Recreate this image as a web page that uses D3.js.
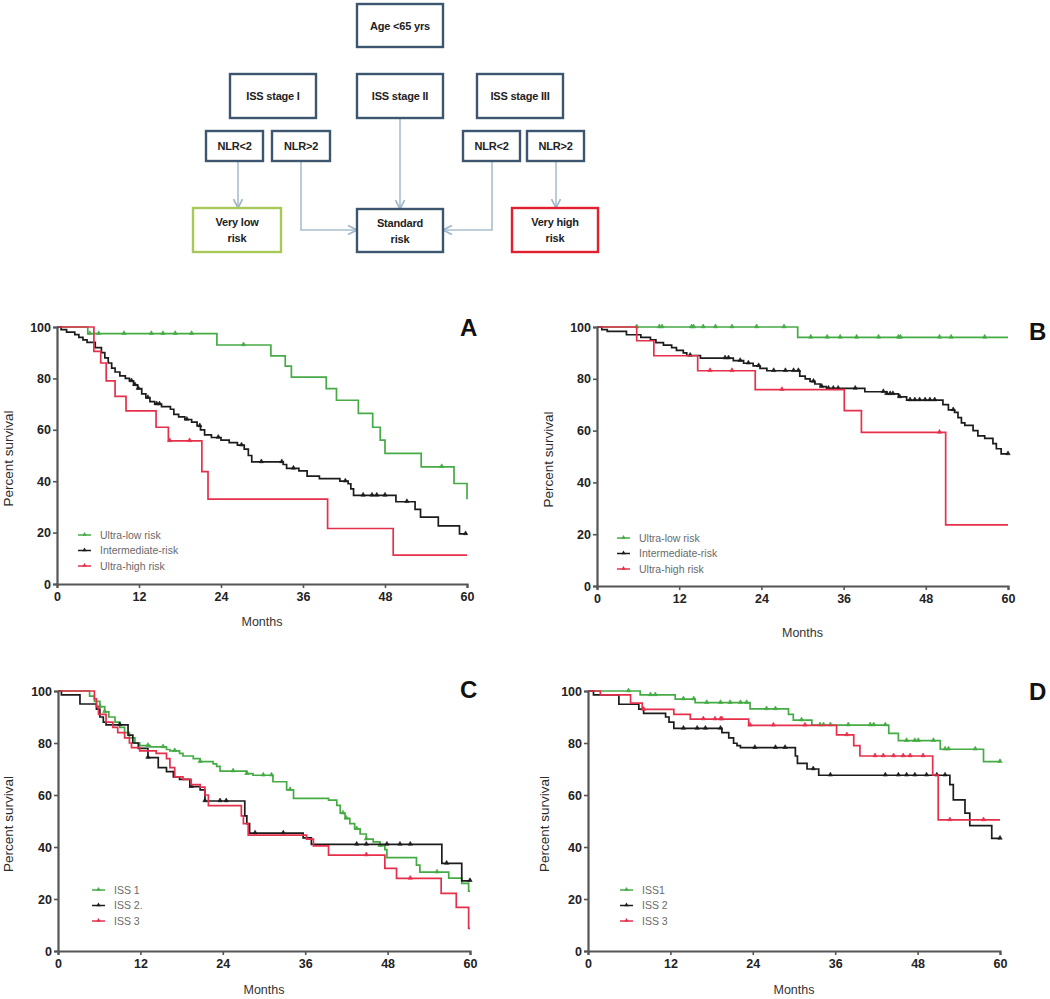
<!DOCTYPE html>
<html><head><meta charset="utf-8">
<script src="https://cdn.jsdelivr.net/npm/d3@7"></script>
<style>body{margin:0;background:#fff}svg{display:block}</style></head><body>
<svg id="c" width="1050" height="999"></svg>
<script>
// ---------- tick labels ----------
const yTicks = [0, 20, 40, 60, 80, 100];
const xTicks = [0, 12, 24, 36, 48, 60];

// ---------- Panel A (drop times, survival after drop, censor times) ----------
const aLowT = [4.5, 23.4, 31.3, 33.4, 34.3, 39.4, 40.9, 44.1, 46.2, 47.3, 48, 53.3, 58.1, 60];
const aLowS = [97.4, 93, 88.8, 84.8, 80.5, 76, 71.5, 66.4, 61, 56, 50.8, 45.6, 39.1, 33];
const aLowC = [4.8, 6.1, 9.8, 13.8, 15.5, 17.3, 19.7, 27.3, 56.3];
const aIntT = [0.6, 1.4, 2.6, 3.2, 3.8, 4.4, 5.6, 6.5, 7, 7.5, 8, 8.5, 9.2, 10, 10.6, 11.2, 11.8, 12.4, 13, 13.6, 14.3, 15.3, 16.6, 17.1, 17.8, 18.7, 19.7, 20.5, 21, 21.6, 22.6, 24, 25.2, 26.4, 27.4, 28, 28.5, 33.1, 33.6, 35.4, 36.6, 38.4, 41.4, 42.6, 43, 43.4, 49.6, 52.4, 53.2, 55.8, 58.9];
const aIntS = [99, 98, 97, 96, 95, 94, 92, 90, 88, 86, 84, 82.5, 81, 80, 79, 77.5, 76, 74, 72.5, 71, 70, 69, 68, 66, 65, 64, 63, 61.5, 60, 58, 57, 56, 55, 54, 52.5, 50, 47.5, 46.5, 45, 44, 42, 41, 40, 39, 37, 34.5, 32, 29, 26, 22.6, 19.5];
const aIntC = [10.9, 11.4, 11.9, 13.3, 14.6, 15, 19, 20.9, 23.6, 27, 29.9, 32.9, 34.6, 42.2, 44.8, 46.1, 46.8, 48, 51.2, 59.8];
const aHighT = [5.4, 6.4, 7.2, 8.5, 10.1, 14.5, 16.3, 21.2, 22.1, 39.6, 49.2];
const aHighS = [90.5, 86, 79, 73, 67.4, 61, 55.7, 43.7, 33, 21.6, 11.2];
const aHighC = [16.5, 19.4];

// ---------- Panel B ----------
const bLowT = [29.3];
const bLowS = [96];
const bLowC = [5.8, 9.1, 9.5, 13.8, 14.1, 15.5, 17.3, 19.7, 23.3, 27.3, 31.2, 33.6, 35.5, 37.9, 41.1, 44, 44.3, 50, 51.7, 56.6];
const bIntT = [0.7, 1.5, 4.3, 6.4, 7.8, 8.6, 9.7, 10.9, 11.6, 12.6, 13.1, 15.1, 19.9, 21.4, 22.8, 23.8, 24.8, 29.6, 30.4, 31.1, 31.8, 32.6, 33.5, 39.1, 42.3, 44, 45.2, 50.5, 51.3, 52.2, 52.7, 53.2, 53.7, 54.9, 55.6, 56.6, 57.8, 58.3, 59];
const bIntS = [99, 98.3, 97, 96, 95, 94, 93, 92, 91, 90, 89, 88, 87, 86, 85, 84, 83.1, 81, 80, 79, 78, 77, 76.3, 75, 74.2, 73, 71.8, 70, 68, 67, 65, 63, 62, 60, 58, 57, 55, 53, 51];
const bIntC = [13.6, 18.7, 19.2, 20.9, 22.1, 23.6, 25.8, 27.5, 28.7, 29.4, 31.6, 32.8, 33.8, 34.5, 35.2, 37.7, 41.8, 42.3, 42.8, 43.2, 44.2, 45.7, 46.4, 47.1, 47.9, 48.6, 49.3, 52, 60];
const bHighT = [5.8, 8.3, 14.7, 23.1, 36.1, 38.6, 50.9];
const bHighS = [94.7, 88.9, 83.1, 75.8, 67.7, 59.3, 23.6];
const bHighC = [16.5, 19.7, 27, 50];

// ---------- Panel C ----------
const cIss1T = [4.6, 5.3, 6.1, 6.8, 7.4, 8.3, 9, 9.7, 10.4, 11.2, 11.9, 13.4, 15.8, 16.3, 17.7, 18.2, 19.7, 20.7, 22.6, 23.1, 23.6, 27.5, 28.4, 31.3, 33.3, 34.3, 39.4, 40.6, 41.1, 41.8, 42.5, 43.2, 44, 44.9, 45.9, 46.9, 47.6, 47.9, 52.2, 52.7, 56.9, 58.8, 59.8];
const cIss1S = [98, 96, 94, 92, 90, 88, 86, 84, 82, 80, 79, 78.5, 77.5, 77, 76, 75, 74, 72.8, 72, 71, 69.2, 68.2, 67.6, 65.1, 62, 58.7, 58, 56, 53, 51, 49, 47, 45, 43, 42, 40.5, 39, 35.9, 33, 30.3, 28, 26, 23];
const cIss1C = [6.1, 6.8, 13.1, 15.3, 17, 20.7, 25.5, 27.5, 29.9, 31.1, 33.8, 41.5, 42, 43.5, 44.9, 46.9, 55.2];
const cIss2T = [0.5, 3.2, 5.6, 6.1, 6.6, 7, 10.2, 10.9, 11.7, 13.1, 14.6, 15.8, 16.8, 17.7, 19.2, 20.7, 21.4, 27.2, 27.5, 27.9, 35.7, 36.9, 55.9, 58.8];
const cIss2S = [98.5, 95, 93, 90, 88, 87, 83, 80, 77.9, 74.4, 70.5, 69, 67, 66, 63.2, 62, 57.7, 52, 49, 45.3, 43.5, 41, 33.7, 27];
const cIss2C = [9, 13.1, 19.4, 21.4, 23.6, 24.5, 28.7, 32.8, 43.5, 44.9, 47.9, 49.8, 51.3, 56.6, 60];
const cIss3T = [5.3, 5.6, 5.9, 7, 8, 8.7, 9.7, 10.4, 10.7, 11.9, 14.3, 15.8, 16.3, 17, 18.2, 19.4, 20.7, 21.4, 21.9, 26.7, 27, 27.7, 36.2, 37.2, 39.4, 47.6, 49.3, 55.8, 58, 59.8];
const cIss3S = [97, 94, 91, 88, 86, 84, 82, 80, 78.2, 77, 76, 74, 70.5, 67, 66, 64, 63, 60, 55.9, 52, 49, 44.6, 43, 40.4, 36.9, 31.8, 27.9, 22.2, 16.8, 8.7];
const cIss3C = [44.9, 51.3];

// ---------- Panel D ----------
const dIss1T = [7.6, 12.7, 15.6, 23.6, 29.2, 29.9, 32.6, 43.8, 45.2, 51.3, 57.6];
const dIss1S = [98.5, 96.9, 95.5, 93.1, 91, 88.8, 86.9, 83.7, 80.9, 77.6, 72.8];
const dIss1C = [5.9, 9.1, 9.8, 13.9, 15.4, 17.3, 19.3, 20.7, 22.2, 23.1, 26, 27.3, 31.1, 33.8, 34.3, 35.3, 37.9, 41.1, 41.6, 43.3, 46.4, 47.6, 48.1, 50.3, 52, 52.5, 56.4, 60];
const dIss2T = [0.8, 4.5, 7.4, 8.1, 11.3, 11.8, 12.5, 19.5, 20.5, 21.2, 21.7, 22.2, 30.2, 30.5, 31.9, 33.6, 52.7, 53.2, 54.9, 55.6, 58.8];
const dIss2S = [98.5, 94.9, 93, 91.4, 90, 88, 85.6, 84, 82, 79.9, 79, 78.2, 75, 72.2, 70, 67.6, 64, 58.1, 53, 48.2, 43.3];
const dIss2C = [13.9, 15.9, 17.1, 19.3, 24.3, 27.3, 28.7, 32.8, 35.3, 43.3, 45.2, 46.4, 47.6, 49.3, 50.8, 52, 60];
const dIss3T = [1.8, 6.2, 7.9, 12.5, 14.9, 23.4, 36.2, 38.7, 39.6, 50.2, 51];
const dIss3S = [98.5, 95.3, 92.9, 91, 89.2, 86.8, 83.1, 79, 75, 67.7, 50.4];
const dIss3C = [8.1, 16.8, 18.5, 19.3, 19.5, 23.6, 27, 31.6, 37.7, 41.8, 43, 44.5, 45.9, 46.9, 48.8, 52.7, 57.6];

// ---------- legends ----------
const abNames = ["Ultra-low risk", "Intermediate-risk", "Ultra-high risk"];
const cNames = ["ISS 1", "ISS 2.", "ISS 3"];
const dNames = ["ISS1", "ISS 2", "ISS 3"];

// ---------- flowchart text ----------
const fcLabels = ["Age <65 yrs", "ISS stage I", "ISS stage II", "ISS stage III", "NLR<2", "NLR>2", "NLR<2", "NLR>2", "Very low|risk", "Standard|risk", "Very high|risk"];

const GREEN = "#45ab45", BLACK = "#1c1c1c", RED = "#e6304b";
const svg = d3.select("#c");

// ================= Flowchart =================
const fcBoxes = [
  {x:357,y:4,w:86,h:43}, {x:230,y:74,w:86,h:44}, {x:357,y:74,w:86,h:44}, {x:477,y:74,w:86,h:44},
  {x:206,y:131,w:57,h:30}, {x:272,y:131,w:58,h:30}, {x:463,y:131,w:57,h:30}, {x:527,y:131,w:57,h:30},
  {x:193,y:208,w:88,h:44,c:"#a9c85a"}, {x:357,y:209,w:86,h:43}, {x:512,y:208,w:86,h:44,c:"#e0202e"}
];
const defs = svg.append("defs");
defs.append("marker").attr("id","arr").attr("viewBox","0 0 10 10").attr("refX",9).attr("refY",5)
  .attr("markerWidth",7).attr("markerHeight",7).attr("orient","auto-start-reverse")
  .append("path").attr("d","M1,1 L9,5 L1,9").attr("fill","none").attr("stroke","#9fb6c8").attr("stroke-width",1.5);
const arrows = [
  [[238,161],[238,208]],
  [[301,161],[301,230],[357,230]],
  [[400,118],[400,209]],
  [[492,161],[492,230],[443,230]],
  [[556,161],[556,208]]
];
const fc = svg.append("g");
fc.selectAll("path.ar").data(arrows).join("path").attr("class","ar")
  .attr("d", d => d3.line()(d)).attr("fill","none").attr("stroke","#a9bfd0").attr("stroke-width",1.6)
  .attr("marker-end","url(#arr)");
fc.selectAll("rect").data(fcBoxes).join("rect")
  .attr("x",d=>d.x).attr("y",d=>d.y).attr("width",d=>d.w).attr("height",d=>d.h)
  .attr("fill","#fff").attr("stroke",d=>d.c||"#3c5670").attr("stroke-width",2.4);
fcBoxes.forEach((b,i)=>{
  const lines = fcLabels[i].split("|");
  const t = fc.append("text").attr("text-anchor","middle").attr("font-family","Liberation Sans, Arial")
    .attr("font-weight","bold").attr("font-size",11).attr("fill","#222").attr("letter-spacing","-0.2");
  lines.forEach((l,k)=>{
    t.append("tspan").attr("x", b.x + b.w/2)
     .attr("y", b.y + b.h/2 + 4 + (k - (lines.length-1)/2)*16).text(l);
  });
});

// ================= KM panels =================
function drawPanel(p) {
  const x = d3.scaleLinear().domain([0,60]).range([p.x0,p.x1]);
  const y = d3.scaleLinear().domain([0,100]).range([p.y0,p.y1]);
  const g = svg.append("g");
  const ff = "Liberation Sans, Arial";
  // curves
  p.series.forEach(s=>{
    const pts = [[0,100]];
    let cur = 100;
    s.t.forEach((t,i)=>{ pts.push([t,cur]); cur = s.s[i]; pts.push([t,cur]); });
    pts.push([60,cur]);
    g.append("path").attr("d", d3.line().x(d=>x(d[0])).y(d=>y(d[1]))(pts))
      .attr("fill","none").attr("stroke",s.col).attr("stroke-width",1.7);
    const surv = t => { let v = 100; s.t.forEach((tt,i)=>{ if (tt <= t) v = s.s[i]; }); return v; };
    g.selectAll(null).data(s.c).join("path")
      .attr("d", d => { const cx = x(d), cy = y(surv(d)); return `M${cx},${cy-3}L${cx-2.2},${cy+0.8}L${cx+2.2},${cy+0.8}Z`; })
      .attr("fill",s.col).attr("stroke",s.col).attr("stroke-width",0.6);
  });
  // axes
  const ya = g.append("g").attr("transform",`translate(${p.x0},0)`)
    .call(d3.axisLeft(y).tickValues(yTicks).tickSize(4).tickPadding(2));
  const xa = g.append("g").attr("transform",`translate(0,${p.y0})`)
    .call(d3.axisBottom(x).tickValues(xTicks).tickSize(4).tickPadding(4));
  [ya,xa].forEach(a=>{
    a.select(".domain").attr("stroke","#555").attr("stroke-width",2.2);
    a.selectAll(".tick line").attr("stroke","#555").attr("stroke-width",1.6);
    a.selectAll("text").attr("font-family",ff).attr("font-weight","bold").attr("font-size",12.5).attr("fill","#222");
  });
  // labels
  g.append("text").attr("x",(p.x0+p.x1)/2).attr("y",p.mY).attr("text-anchor","middle")
    .attr("font-family",ff).attr("font-size",12.5).attr("fill","#333").text("Months");
  g.append("text").attr("transform",`translate(${p.pX},${(p.y0+p.y1)/2+3}) rotate(-90)`).attr("text-anchor","middle")
    .attr("font-family",ff).attr("font-size",13.5).attr("fill","#2a2a2a").text("Percent survival");
  g.append("text").attr("x",p.lx).attr("y",p.ly).attr("font-family",ff).attr("font-weight","bold")
    .attr("font-size",24).attr("fill","#111").text(p.letter);
  // legend
  p.names.forEach((n,i)=>{
    const ly = p.legY + i*15.5;
    g.append("line").attr("x1",p.legX).attr("x2",p.legX+13).attr("y1",ly).attr("y2",ly)
      .attr("stroke",p.series[i].col).attr("stroke-width",1.5);
    const cx = p.legX+6.5;
    g.append("path").attr("d",`M${cx},${ly-3}L${cx-2.2},${ly+0.8}L${cx+2.2},${ly+0.8}Z`).attr("fill",p.series[i].col);
    g.append("text").attr("x",p.legX+22).attr("y",ly+3.5).attr("font-family",ff).attr("font-size",10.5)
      .attr("fill","#6a6a6a").text(n);
  });
}

drawPanel({x0:57,x1:467,y0:584,y1:327,mY:626,pX:13,lx:460,ly:336,letter:"A",legX:78,legY:535,names:abNames,
  series:[{t:aLowT,s:aLowS,c:aLowC,col:GREEN},{t:aIntT,s:aIntS,c:aIntC,col:BLACK},{t:aHighT,s:aHighS,c:aHighC,col:RED}]});
drawPanel({x0:597,x1:1008,y0:586,y1:327,mY:637,pX:553,lx:1029,ly:340,letter:"B",legX:617,legY:538,names:abNames,
  series:[{t:bLowT,s:bLowS,c:bLowC,col:GREEN},{t:bIntT,s:bIntS,c:bIntC,col:BLACK},{t:bHighT,s:bHighS,c:bHighC,col:RED}]});
drawPanel({x0:58,x1:470,y0:951,y1:691,mY:994,pX:13,lx:460,ly:698,letter:"C",legX:92,legY:890,names:cNames,
  series:[{t:cIss1T,s:cIss1S,c:cIss1C,col:GREEN},{t:cIss2T,s:cIss2S,c:cIss2C,col:BLACK},{t:cIss3T,s:cIss3S,c:cIss3C,col:RED}]});
drawPanel({x0:588,x1:1000,y0:951,y1:691,mY:994,pX:549,lx:1029,ly:700,letter:"D",legX:620,legY:890,names:dNames,
  series:[{t:dIss1T,s:dIss1S,c:dIss1C,col:GREEN},{t:dIss2T,s:dIss2S,c:dIss2C,col:BLACK},{t:dIss3T,s:dIss3S,c:dIss3C,col:RED}]});
</script></body></html>
